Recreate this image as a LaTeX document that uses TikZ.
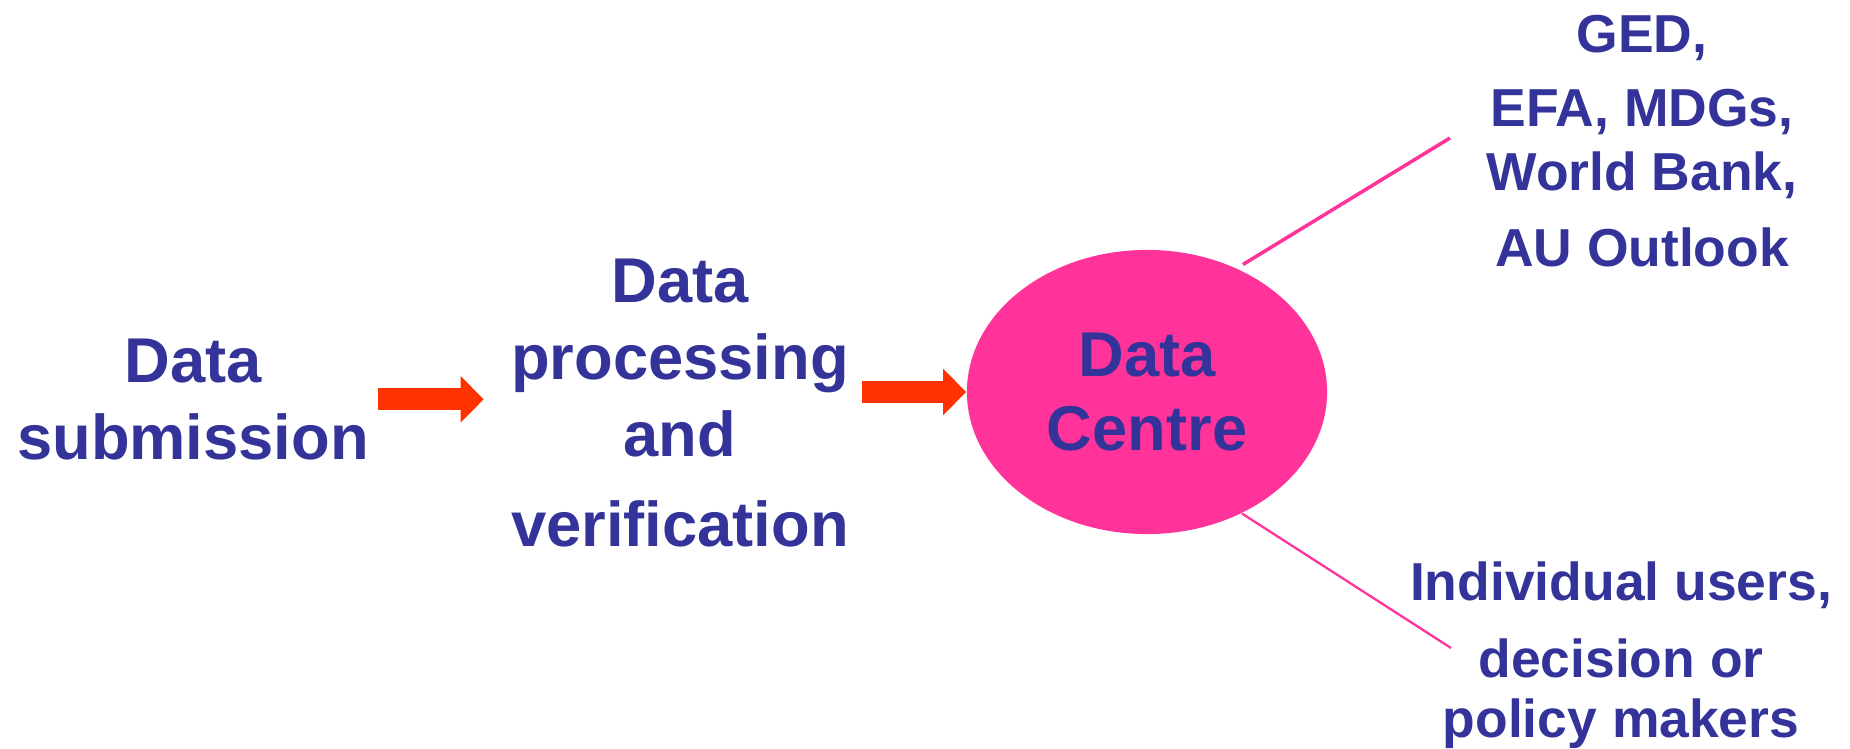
\documentclass[tikz,border=0pt]{standalone}
\usepackage{fontspec}
\setmainfont{Liberation Sans}
\usetikzlibrary{arrows.meta,shapes.geometric}
\definecolor{navy}{RGB}{51,51,153}
\definecolor{hotpink}{RGB}{255,51,153}
\definecolor{arrowred}{RGB}{255,51,0}

\begin{document}
\begin{tikzpicture}[x=0.01cm,y=-0.01cm,
        txt/.style={text=navy,font=\bfseries\fontsize{18}{21.9}\selectfont,align=center,inner sep=0pt,anchor=north},
        small/.style={font=\bfseries\fontsize{15.2}{18.2}\selectfont},
        flow/.style={draw=arrowred,line width=0.22cm,-{Triangle[length=0.23cm,width=0.45cm]}},
        link/.style={draw=hotpink}]
                \useasboundingbox (0,0) rectangle (1850,749);
                \node[txt](sub)at(193, 338){Data\\submission};
                \node[txt](proc)at(680, 258){Data\\processing\\and\\[3.7pt]verification};
                \node[shape=ellipse,fill=hotpink,minimum width=3.6cm,minimum height=2.84cm,inner sep=0pt,
                      text=navy,font=\bfseries\fontsize{18}{21.3}\selectfont,align=center](centre)at(1147, 392){Data\\Centre};
                \node[txt,small](ged)at(1642, 14){GED,\\[3.1pt]EFA, MDGs,\\World Bank,\\[3.4pt]AU Outlook};
                \node[txt,small](users)at(1621, 561){Individual users,\\[3.7pt]decision or\\[-1pt]policy makers};
                \coordinate(gedend)at(1450, 138);
                \coordinate(usersend)at(1451, 648);
                \draw[flow,shorten <=2.3pt,shorten >=7.6pt](sub.east) -- (sub.east -| proc.west);
                \draw[flow,shorten <=3.4pt](proc.east |- centre.west) -- (centre.west);
                \path[link]
                (centre.54.7) edge [line width=1pt,shorten <=2pt] (gedend)
                (centre.-52.9) edge [line width=0.65pt] (usersend);
            \end{tikzpicture}
\end{document}
